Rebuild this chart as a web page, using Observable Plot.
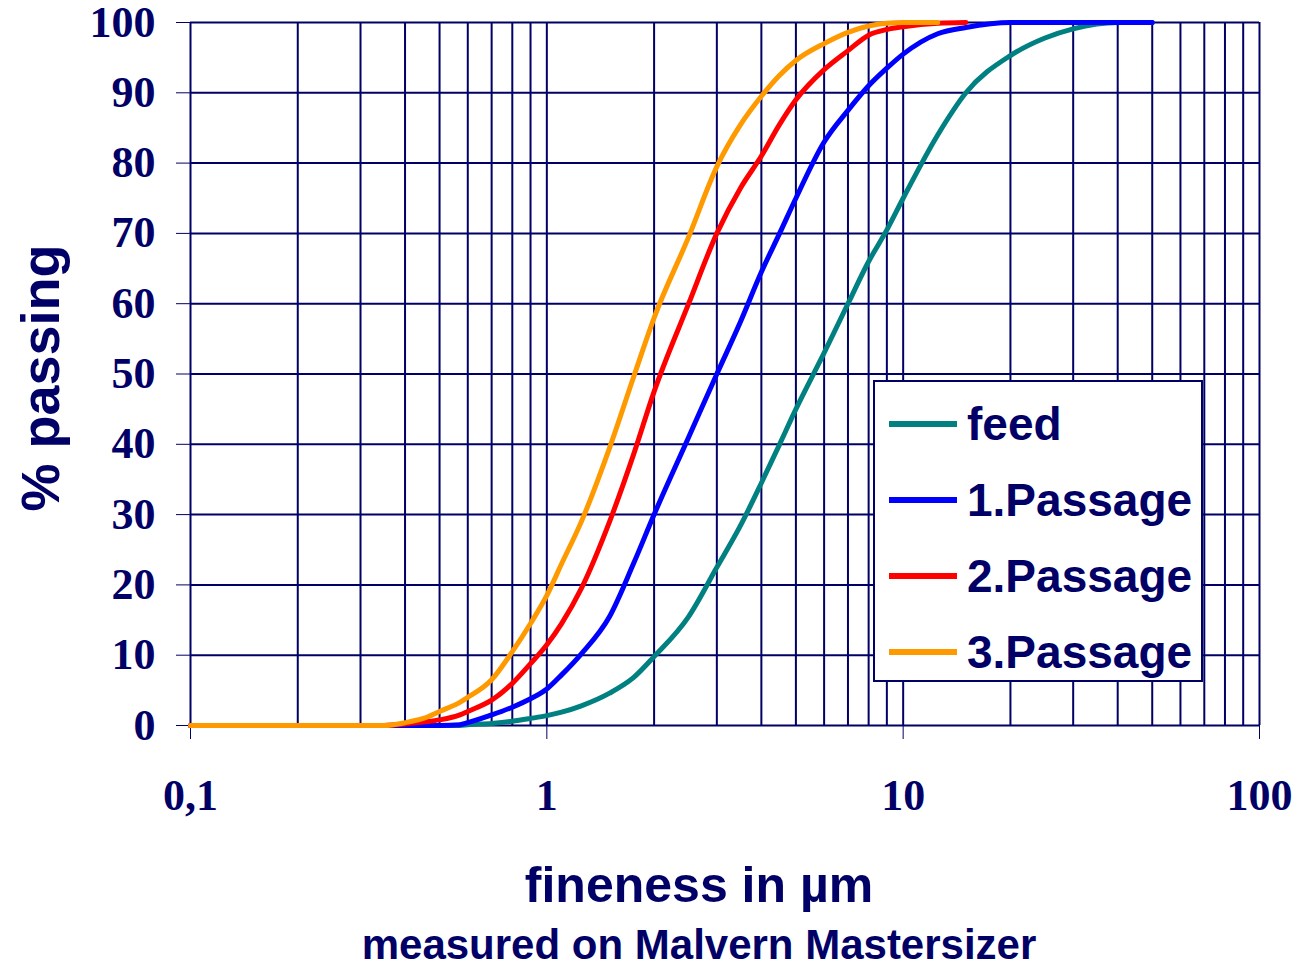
<!DOCTYPE html>
<html>
<head>
<meta charset="utf-8">
<script src="https://cdn.jsdelivr.net/npm/d3@7"></script>
<script src="https://cdn.jsdelivr.net/npm/@observablehq/plot@0.6"></script>
<style>
  body { margin: 0; background: #fff; }
  #wrap { position: relative; width: 1305px; height: 968px; }
  #legend { position: absolute; left: 873px; top: 380px; width: 326px; height: 298px;
    border: 2px solid #000066; background: #fff; box-sizing: content-box; }
  .item { position: absolute; left: 14px; height: 76px; display: flex; align-items: center; }
  .swatch { width: 68px; height: 6px; margin-right: 10px; }
  .lab { font: bold 46px "Liberation Sans", Arial, sans-serif; color: #000066; }
</style>
</head>
<body>
<div id="wrap"><div id="legend"></div></div>
<script>
const navy = "#000066";
const sizes = [0.1,0.2,0.3,0.35,0.4,0.45,0.5,0.57,0.6,0.7,0.8,0.9,1,1.1,1.25,1.5,1.75,2,2.5,3,3.5,4,4.5,5,6,7,8,9,10,12.5,15,20,25,30,40,50];
const feed     = [0,0,0,0,0,0,0,0,0.1,0.3,0.6,1.0,1.4,1.9,2.8,4.6,6.8,9.8,15.5,22.5,28.5,34.5,40,45,53,60,66,70.5,75,84,90,95.3,97.8,99.1,100,100];
const passage1 = [0,0,0,0,0,0,0,0.1,0.4,1.5,2.6,3.8,5.2,7.2,10.2,15.5,23,30,41,50,57.5,64.5,70,75,83,87.5,91,93.5,95.5,98.4,99.3,100,100,100,100,100];
const passage2 = [0,0,0,0,0.2,0.5,0.8,1.5,2,3.6,6,8.8,11.5,14.5,19.5,29,38.5,47.5,60,70,76.5,81,85.5,89,93.3,96,98.2,99,99.4,99.9,100,null,null,null,null,null];
const passage3 = [0,0,0,0,0.4,1,2,3.3,4,6.5,10.5,14.5,18.5,23,29,39.5,49.5,58,69.5,79.5,85.5,89.5,92.5,94.6,97,98.6,99.5,99.9,100,100,null,null,null,null,null,null];
const seriesNames = ["feed","1.Passage","2.Passage","3.Passage"];
const seriesValues = [feed, passage1, passage2, passage3];
const seriesColors = ["#008080","#0000ff","#ff0000","#ff9900"];
const xTickValues = [0.1, 1, 10, 100];
const xTickLabels = ["0,1", "1", "10", "100"];
const yTickValues = d3.range(0, 101, 10);
const xGrid = [];
for (const d of [0.1, 1, 10]) for (let k = 1; k <= 9; k++) xGrid.push(+(d * k).toPrecision(3));
xGrid.push(100);

const data = [];
seriesNames.forEach((name, i) => {
  seriesValues[i].forEach((v, j) => { if (v != null) data.push({series: name, size: sizes[j], pct: v}); });
});

const serif = "'Liberation Serif', 'Times New Roman', serif";
const sans = "'Liberation Sans', Arial, sans-serif";

const chart = Plot.plot({
  width: 1305, height: 968,
  marginLeft: 190, marginRight: 46, marginTop: 22, marginBottom: 243,
  x: {type: "log", domain: [0.1, 100]},
  y: {domain: [0, 100]},
  color: {domain: seriesNames, range: seriesColors},
  marks: [
    Plot.gridX(xGrid, {stroke: navy, strokeOpacity: 1, strokeWidth: 2}),
    Plot.gridY(yTickValues, {stroke: navy, strokeOpacity: 1, strokeWidth: 2}),
    Plot.axisX({ticks: xTickValues, tickFormat: d => xTickLabels[xTickValues.indexOf(d)], tickSize: 14, tickPadding: 39,
      fontSize: 44, fontFamily: serif, fontWeight: "bold", color: navy, label: null}),
    Plot.axisY({ticks: yTickValues, tickSize: 14, tickPadding: 21,
      fontSize: 44, fontFamily: serif, fontWeight: "bold", color: navy, label: null}),
    Plot.line(data, {x: "size", y: "pct", z: "series", stroke: "series", strokeWidth: 5, curve: "monotone-x"}),
    Plot.text(["% passing"], {frameAnchor: "left", dx: -149, dy: 4, rotate: -90, fontSize: 54, fontFamily: sans, fontWeight: "bold", fill: navy, textAnchor: "middle", lineAnchor: "middle"}),
    Plot.text(["fineness in µm"], {frameAnchor: "bottom", dx: -26, dy: 160, fontSize: 50, fontFamily: sans, fontWeight: "bold", fill: navy, lineAnchor: "middle"}),
    Plot.text(["measured on Malvern Mastersizer"], {frameAnchor: "bottom", dx: -26, dy: 220, fontSize: 42, fontFamily: sans, fontWeight: "bold", fill: navy, lineAnchor: "middle"})
  ]
});
document.getElementById("wrap").prepend(chart);

const legend = document.getElementById("legend");
seriesNames.forEach((name, i) => {
  const item = document.createElement("div");
  item.className = "item";
  item.style.top = (4 + i * 76) + "px";
  item.innerHTML = `<div class="swatch" style="background:${seriesColors[i]}"></div><span class="lab">${name}</span>`;
  legend.appendChild(item);
});
</script>
</body>
</html>
